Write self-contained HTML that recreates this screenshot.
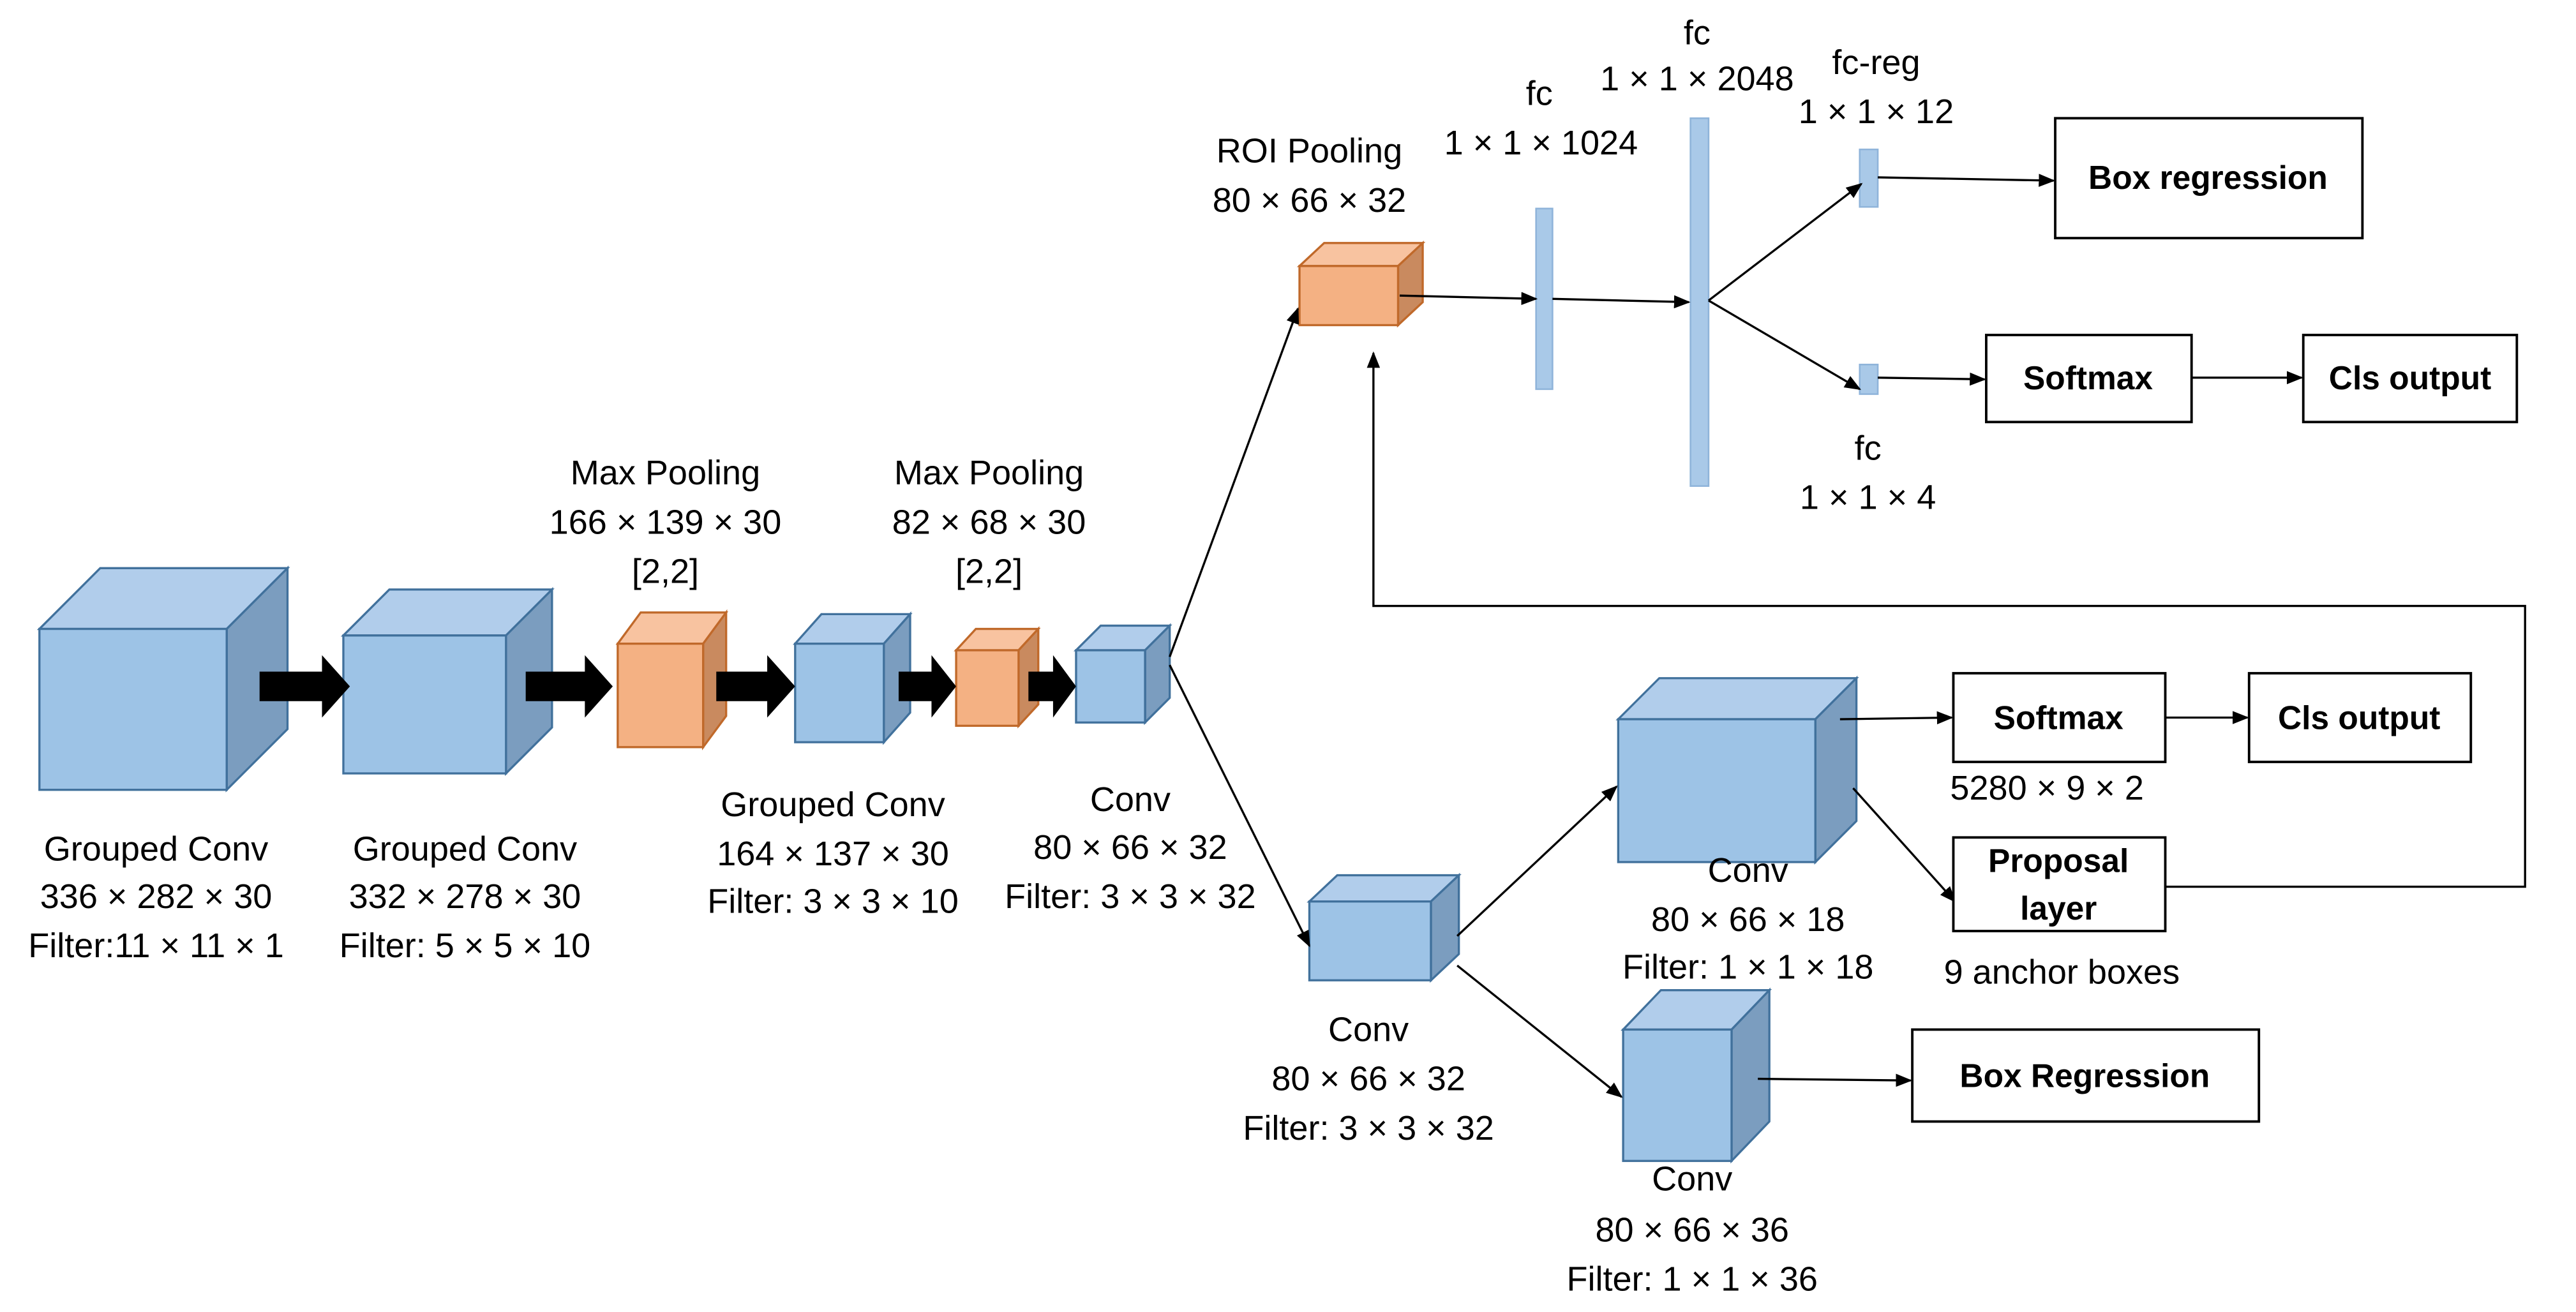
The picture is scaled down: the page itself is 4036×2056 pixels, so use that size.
<!DOCTYPE html>
<html><head><meta charset="utf-8"><style>html,body{margin:0;padding:0;background:#fff}svg{display:block}</style></head>
<body>
<svg xmlns="http://www.w3.org/2000/svg" width="4036" height="2056" viewBox="0 0 1568 799" preserveAspectRatio="none" font-family="Liberation Sans, sans-serif" font-size="21" fill="#000">
<defs>
<marker id="a" markerWidth="10" markerHeight="8" refX="9" refY="4" orient="auto" markerUnits="userSpaceOnUse"><path d="M0,0 L10,4 L0,8 Z" fill="#000"/></marker>
</defs>
<rect width="1568" height="799" fill="#fff"/>
<g stroke-width="1.3">
<g stroke="#41719c">
<polygon points="24,383 61,346 175,346 138,383" fill="#b1cdeb"/><polygon points="138,383 175,346 175,444 138,481" fill="#7b9dbf"/><rect x="24" y="383" width="114" height="98" fill="#9dc3e6"/>
<polygon points="209,387 237,359 336,359 308,387" fill="#b1cdeb"/><polygon points="308,387 336,359 336,443 308,471" fill="#7b9dbf"/><rect x="209" y="387" width="99" height="84" fill="#9dc3e6"/>
<polygon points="484,392 500,374 554,374 538,392" fill="#b1cdeb"/><polygon points="538,392 554,374 554,434 538,452" fill="#7b9dbf"/><rect x="484" y="392" width="54" height="60" fill="#9dc3e6"/>
<polygon points="655,396 670,381 712,381 697,396" fill="#b1cdeb"/><polygon points="697,396 712,381 712,425 697,440" fill="#7b9dbf"/><rect x="655" y="396" width="42" height="44" fill="#9dc3e6"/>
<polygon points="797,549 814,533 888,533 871,549" fill="#b1cdeb"/><polygon points="871,549 888,533 888,581 871,597" fill="#7b9dbf"/><rect x="797" y="549" width="74" height="48" fill="#9dc3e6"/>
<polygon points="985,438 1010,413 1130,413 1105,438" fill="#b1cdeb"/><polygon points="1105,438 1130,413 1130,500 1105,525" fill="#7b9dbf"/><rect x="985" y="438" width="120" height="87" fill="#9dc3e6"/>
<polygon points="988,627 1011,603 1077,603 1054,627" fill="#b1cdeb"/><polygon points="1054,627 1077,603 1077,683 1054,707" fill="#7b9dbf"/><rect x="988" y="627" width="66" height="80" fill="#9dc3e6"/>
</g>
<g stroke="#c0692a">
<polygon points="376,392 390,373 442,373 428,392" fill="#f8c3a0"/><polygon points="428,392 442,373 442,436 428,455" fill="#c98a5f"/><rect x="376" y="392" width="52" height="63" fill="#f4b183"/>
<polygon points="582,396 594,383 632,383 620,396" fill="#f8c3a0"/><polygon points="620,396 632,383 632,429 620,442" fill="#c98a5f"/><rect x="582" y="396" width="38" height="46" fill="#f4b183"/>
<polygon points="791,162 806,148 866,148 851,162" fill="#f8c3a0"/><polygon points="851,162 866,148 866,184 851,198" fill="#c98a5f"/><rect x="791" y="162" width="60" height="36" fill="#f4b183"/>
</g>
</g>
<g fill="#a9c9e8" stroke="#8fb4da" stroke-width="1">
<rect x="935" y="127" width="10" height="110"/>
<rect x="1029" y="72" width="11" height="224"/>
<rect x="1132" y="91" width="11" height="35"/>
<rect x="1132" y="222" width="11" height="18"/>
</g>
<g fill="#000">
<polygon points="158,409 196,409 196,399 213,418 196,437 196,427 158,427"/>
<polygon points="320,409 356,409 356,399 373,418 356,437 356,427 320,427"/>
<polygon points="436,409 467,409 467,399 484,418 467,437 467,427 436,427"/>
<polygon points="547,409 567,409 567,399 582,418 567,437 567,427 547,427"/>
<polygon points="626,409 641,409 641,399 655,418 641,437 641,427 626,427"/>
</g>
<g stroke="#000" stroke-width="1.3" fill="none" marker-end="url(#a)">
<line x1="712" y1="400" x2="790" y2="188"/>
<line x1="712" y1="405" x2="797" y2="576"/>
<line x1="852" y1="180" x2="935" y2="182"/>
<line x1="945" y1="182" x2="1028" y2="184"/>
<line x1="1040" y1="183" x2="1133" y2="112"/>
<line x1="1040" y1="183" x2="1132" y2="237"/>
<line x1="1143" y1="108" x2="1250" y2="110"/>
<line x1="1143" y1="230" x2="1208" y2="231"/>
<line x1="1334" y1="230" x2="1401" y2="230"/>
<polyline points="1318,540 1537,540 1537,369 836,369 836,215"/>
<line x1="887" y1="570" x2="984" y2="479"/>
<line x1="887" y1="588" x2="987" y2="668"/>
<line x1="1120" y1="438" x2="1188" y2="437"/>
<line x1="1318" y1="437" x2="1368" y2="437"/>
<line x1="1128" y1="480" x2="1190" y2="549"/>
<line x1="1070" y1="657" x2="1163" y2="658"/>
</g>
<g fill="#fff" stroke="#000" stroke-width="1.5">
<rect x="1251" y="72" width="187" height="73"/>
<rect x="1209" y="204" width="125" height="53"/>
<rect x="1402" y="204" width="130" height="53"/>
<rect x="1189" y="410" width="129" height="54"/>
<rect x="1369" y="410" width="135" height="54"/>
<rect x="1189" y="510" width="129" height="57"/>
<rect x="1164" y="627" width="211" height="56"/>
</g>
<g font-weight="bold" text-anchor="middle" font-size="20">
<text x="1344" y="115">Box regression</text>
<text x="1271" y="237">Softmax</text>
<text x="1467" y="237">Cls output</text>
<text x="1253" y="444">Softmax</text>
<text x="1436" y="444">Cls output</text>
<text x="1253" y="531">Proposal</text>
<text x="1253" y="560">layer</text>
<text x="1269" y="662">Box Regression</text>
</g>
<g text-anchor="middle">
<text x="405" y="295">Max Pooling</text><text x="405" y="325">166 × 139 × 30</text><text x="405" y="355">[2,2]</text>
<text x="602" y="295">Max Pooling</text><text x="602" y="325">82 × 68 × 30</text><text x="602" y="355">[2,2]</text>
<text x="95" y="524">Grouped Conv</text><text x="95" y="553">336 × 282 × 30</text><text x="95" y="583">Filter:11 × 11 × 1</text>
<text x="283" y="524">Grouped Conv</text><text x="283" y="553">332 × 278 × 30</text><text x="283" y="583">Filter: 5 × 5 × 10</text>
<text x="507" y="497">Grouped Conv</text><text x="507" y="527">164 × 137 × 30</text><text x="507" y="556">Filter: 3 × 3 × 10</text>
<text x="688" y="494">Conv</text><text x="688" y="523">80 × 66 × 32</text><text x="688" y="553">Filter: 3 × 3 × 32</text>
<text x="797" y="99">ROI Pooling</text><text x="797" y="129">80 × 66 × 32</text>
<text x="937" y="64">fc</text><text x="938" y="94">1 × 1 × 1024</text>
<text x="1033" y="27">fc</text><text x="1033" y="55">1 × 1 × 2048</text>
<text x="1142" y="45">fc-reg</text><text x="1142" y="75">1 × 1 × 12</text>
<text x="1137" y="280">fc</text><text x="1137" y="310">1 × 1 × 4</text>
<text x="1246" y="487">5280 × 9 × 2</text>
<text x="1255" y="599">9 anchor boxes</text>
<text x="1064" y="537">Conv</text><text x="1064" y="567">80 × 66 × 18</text><text x="1064" y="596">Filter: 1 × 1 × 18</text>
<text x="833" y="634">Conv</text><text x="833" y="664">80 × 66 × 32</text><text x="833" y="694">Filter: 3 × 3 × 32</text>
<text x="1030" y="725">Conv</text><text x="1030" y="756">80 × 66 × 36</text><text x="1030" y="786">Filter: 1 × 1 × 36</text>
</g>
</svg>
</body></html>
